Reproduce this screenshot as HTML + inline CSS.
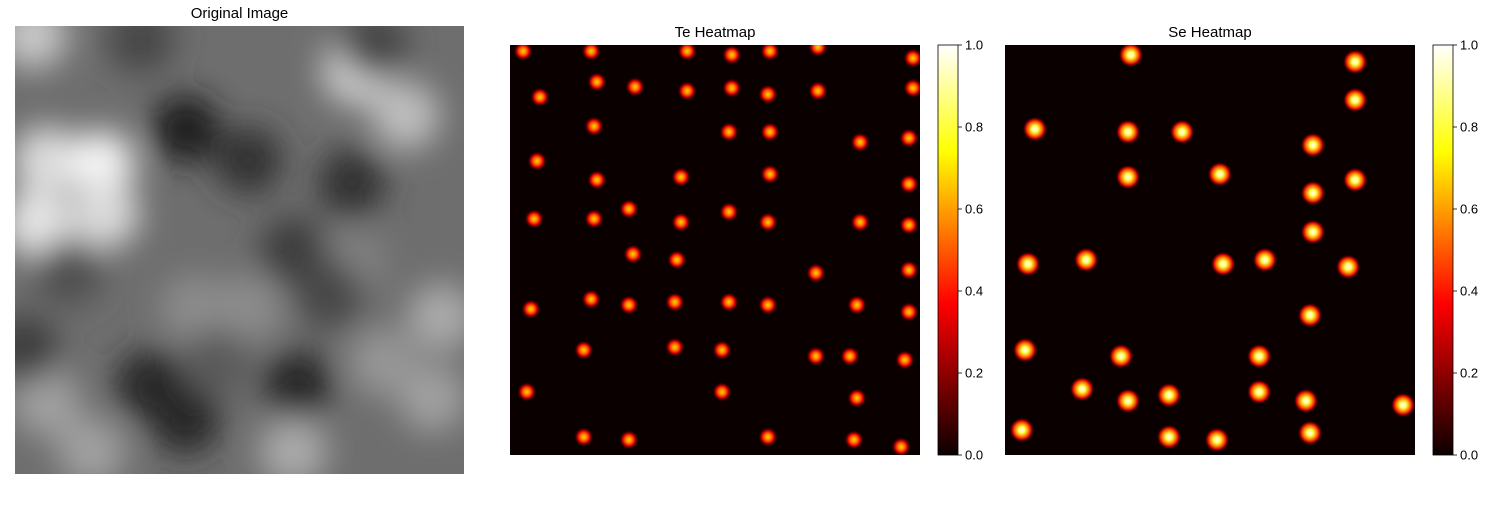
<!DOCTYPE html>
<html><head><meta charset="utf-8"><style>
body{margin:0;background:#fff;width:1500px;height:500px;overflow:hidden;font-family:"Liberation Sans",sans-serif}
</style></head><body>
<svg id="fig" width="1500" height="500" xmlns="http://www.w3.org/2000/svg" font-family="Liberation Sans, sans-serif">
<defs>
<linearGradient id="hot" x1="0" y1="1" x2="0" y2="0">
<stop offset="0" stop-color="#0b0000"/><stop offset="0.37" stop-color="#ff0000"/><stop offset="0.74" stop-color="#ffff00"/><stop offset="1" stop-color="#ffffff"/>
</linearGradient>
<radialGradient id="teBlob"><stop offset="0" stop-color="#ffd000"/><stop offset="0.3" stop-color="#ff8000"/><stop offset="0.6" stop-color="#e00000"/><stop offset="1" stop-color="#0b0000" stop-opacity="0"/></radialGradient>
<radialGradient id="seBlob"><stop offset="0" stop-color="#ffffff"/><stop offset="0.25" stop-color="#ffff60"/><stop offset="0.5" stop-color="#ff9000"/><stop offset="0.75" stop-color="#d00000"/><stop offset="1" stop-color="#0b0000" stop-opacity="0"/></radialGradient>
<filter id="blur" x="-50%" y="-50%" width="200%" height="200%"><feGaussianBlur stdDeviation="16"/></filter>
<clipPath id="origClip"><rect x="15" y="26" width="449" height="448"/></clipPath>
<clipPath id="teClip"><rect x="510" y="45" width="410" height="410"/></clipPath>
<clipPath id="seClip"><rect x="1005" y="45" width="410" height="410"/></clipPath>
</defs>
<text x="239.5" y="18" text-anchor="middle" font-size="15">Original Image</text>
<text x="715" y="37" text-anchor="middle" font-size="15">Te Heatmap</text>
<text x="1210" y="37" text-anchor="middle" font-size="15">Se Heatmap</text>
<g clip-path="url(#origClip)">
<rect x="15" y="26" width="449" height="448" fill="#6e6e6e"/>
<g id="origBlobs" filter="url(#blur)"></g>
</g>
<g clip-path="url(#teClip)">
<rect x="510" y="45" width="410" height="410" fill="#0b0000"/>
<g id="teMarks"></g>
</g>
<g clip-path="url(#seClip)">
<rect x="1005" y="45" width="410" height="410" fill="#0b0000"/>
<g id="seMarks"></g>
</g>
<g id="cb1"></g><g id="cb2"></g>
</svg>
<script>
const teX=[3.2,19.8,43.2,54.1,63.4,75.1,98.3,7.3,21.2,30.5,43.2,54.1,62.9,75.1,98.3,20.5,53.4,63.4,85.4,97.3,6.6,21.2,41.7,63.4,97.3,5.9,20.5,29.0,41.7,53.4,62.9,85.4,97.3,30.0,40.7,74.6,97.3,5.1,19.8,29.0,40.2,53.4,62.9,84.6,97.3,18.0,40.2,51.7,74.6,82.9,96.3,4.1,51.7,84.6,18.0,29.0,62.9,83.9,95.4];
const teY=[1.5,1.5,1.5,2.4,1.5,0.5,3.2,12.7,9.0,10.2,11.2,10.5,12.0,11.2,10.5,19.8,21.2,21.2,23.7,22.7,28.3,32.9,32.2,31.5,33.9,42.4,42.4,40.0,43.2,40.7,43.2,43.2,43.9,51.0,52.4,55.6,54.9,64.4,62.0,63.4,62.7,62.7,63.4,63.4,65.1,74.4,73.7,74.4,75.9,75.9,76.8,84.6,84.6,86.1,95.6,96.3,95.6,96.3,98.0];
const seX=[30.7,85.4,85.4,7.3,30.0,43.2,75.1,30.0,52.4,75.1,85.4,75.1,5.6,19.8,53.2,63.4,83.7,74.4,4.9,28.3,62.0,18.8,30.0,40.0,62.0,73.4,97.1,4.1,40.0,51.7,74.4];
const seY=[2.4,4.1,13.4,20.5,21.2,21.2,24.4,32.2,31.5,36.1,32.9,45.6,53.4,52.4,53.4,52.4,54.1,65.9,74.4,75.9,75.9,83.9,86.8,85.4,84.6,86.8,87.8,93.9,95.6,96.3,94.6];
const cbTicks=[0.0,0.2,0.4,0.6,0.8,1.0];
// original image brightness blobs (x,y in 0-100, grey value 0..255)
const oX=[7,19,5,20,76,87,4,7,17,62,95,40,52,75,93,82,38,52,75,62,2,12,30,38,63,80,28,45,70];
const oY=[30,31,44,42,10,20,2,84,95,95,65,63,63,53,83,75,23,30,35,50,72,55,80,88,80,4,3,75,60];
const oV=[220,245,230,220,210,190,200,160,160,170,170,140,140,130,160,150,30,50,50,60,60,80,40,40,40,70,70,90,70];

const NS="http://www.w3.org/2000/svg";
function sx(ox,v){return ox+v/100*410;}
function sy(oy,v){return oy+v/100*410;}
function mk(tag,attrs,parent){const e=document.createElementNS(NS,tag);for(const k in attrs)e.setAttribute(k,attrs[k]);parent.appendChild(e);return e;}

const og=document.getElementById('origBlobs');
oX.forEach((x,i)=>{const g=oV[i];
const c=mk('circle',{cx:15+x/100*449,cy:26+oY[i]/100*448,r:34,fill:`rgb(${g},${g},${g})`},og);

});

function drawBlobs(gid,xs,ys,ox,grad,r){const g=document.getElementById(gid);
xs.forEach((x,i)=>{const c=mk('circle',{cx:sx(ox,x),cy:sy(45,ys[i]),r:r,fill:`url(#${grad})`},g);

});}
drawBlobs('teMarks',teX,teY,510,'teBlob',10);
drawBlobs('seMarks',seX,seY,1005,'seBlob',12.5);

function colorbar(gid,x){const g=document.getElementById(gid);
const r=mk('rect',{x:x,y:45,width:20,height:410,fill:'url(#hot)',stroke:'#000','stroke-width':0.8},g);


cbTicks.forEach(t=>{const y=455-t*410;
mk('line',{x1:x+20,x2:x+24,y1:y,y2:y,stroke:'#000','stroke-width':0.8},g);
const tx=mk('text',{x:x+27,y:y+4.5,'font-size':13},g);tx.textContent=t.toFixed(1);

});}
colorbar('cb1',938);colorbar('cb2',1433);
</script>
</body></html>
